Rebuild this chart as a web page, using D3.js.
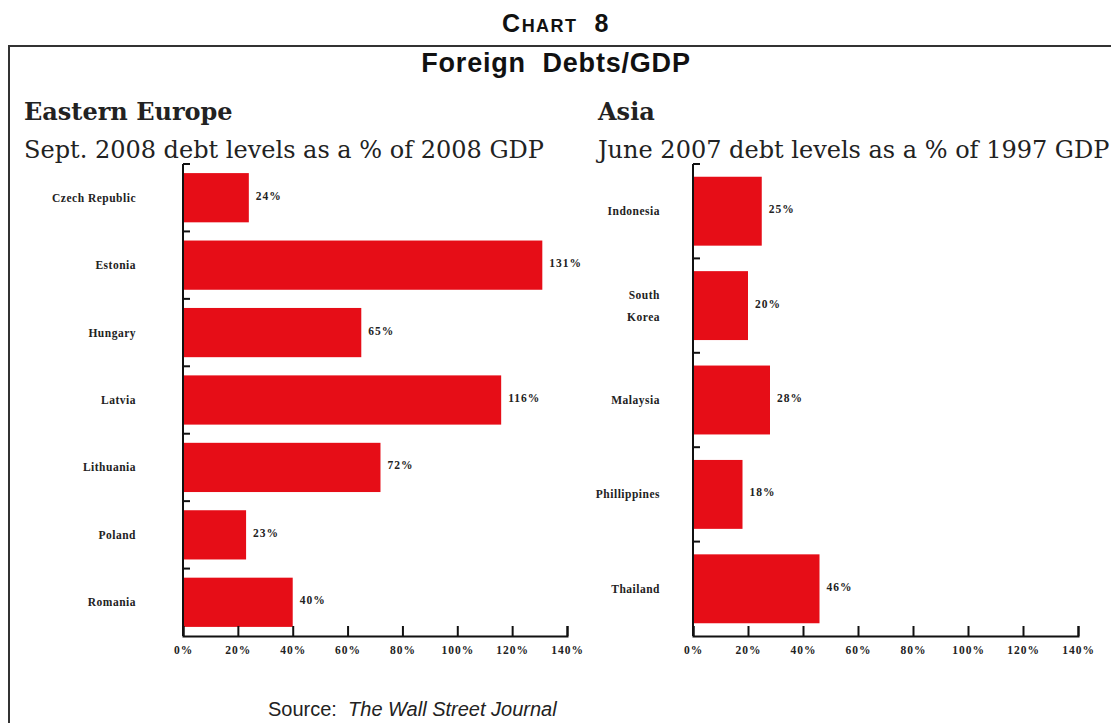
<!DOCTYPE html>
<html>
<head>
<meta charset="utf-8">
<script src="https://cdn.jsdelivr.net/npm/d3@7"></script>
<style>
  body { margin: 0; background: #fff; }
  svg { display: block; }
  .serif { font-family: "Liberation Serif", "DejaVu Serif", serif; }
  .wide { font-family: "DejaVu Serif", "Liberation Serif", serif; }
  .sans { font-family: "Liberation Sans", Arial, sans-serif; }
</style>
</head>
<body>
<div id="canvas"></div>
<script>
// data
var euCountries = ["Czech Republic", "Estonia", "Hungary", "Latvia", "Lithuania", "Poland", "Romania"];
var euValues = [24, 131, 65, 116, 72, 23, 40];

var asiaCountries = ["Indonesia", "South\nKorea", "Malaysia", "Phillippines", "Thailand"];
var asiaValues = [25, 20, 28, 18, 46];

var xTicks = [0, 20, 40, 60, 80, 100, 120, 140];

var W = 1111, H = 723;
var red = "#e60d17";

var svg = d3.select("#canvas").append("svg")
    .attr("width", W)
    .attr("height", H);

// frame
svg.append("path")
    .attr("d", "M9,723 L9,46 L1112,46")
    .attr("fill", "none")
    .attr("stroke", "#333")
    .attr("stroke-width", 2);

// "CHART 8" in small caps
var chartLbl = svg.append("text")
    .attr("class", "sans")
    .attr("x", 556).attr("y", 32)
    .attr("text-anchor", "middle")
    .attr("font-weight", "bold")
    .attr("letter-spacing", 1.5)
    .attr("fill", "#111");
chartLbl.append("tspan").attr("font-size", 25).text("C");
chartLbl.append("tspan").attr("font-size", 18).text("HART");
chartLbl.append("tspan").attr("font-size", 25).text("\u00a0 8");

svg.append("text")
    .attr("class", "sans")
    .attr("x", 556).attr("y", 72)
    .attr("text-anchor", "middle")
    .attr("font-weight", "bold")
    .attr("font-size", 27)
    .attr("letter-spacing", 0.8)
    .attr("fill", "#111")
    .text("Foreign\u00a0 Debts/GDP");

function panel(opt) {
    var g = svg.append("g");

    g.append("text")
        .attr("class", "wide")
        .attr("x", opt.titleX).attr("y", 120)
        .attr("font-size", 24)
        .attr("font-weight", "bold")
        .attr("fill", "#222")
        .text(opt.title);

    g.append("text")
        .attr("class", "wide")
        .attr("x", opt.titleX).attr("y", 158)
        .attr("font-size", 24)
        .attr("fill", "#222")
        .text(opt.subtitle);

    var x = d3.scaleLinear()
        .domain([0, 140])
        .range(opt.xRange);

    var y = d3.scaleBand()
        .domain(opt.cats)
        .range([164, 636])
        .paddingInner(0.27)
        .paddingOuter(0.135);

    var rows = opt.cats.map(function(c, i){ return {cat: c, val: opt.vals[i]}; });

    // bars
    g.selectAll("rect.bar")
        .data(rows)
        .enter().append("rect")
        .attr("class", "bar")
        .attr("x", x(0))
        .attr("y", function(d){ return y(d.cat); })
        .attr("width", function(d){ return x(d.val) - x(0); })
        .attr("height", y.bandwidth())
        .attr("fill", red);

    // value labels
    g.selectAll("text.val")
        .data(rows)
        .enter().append("text")
        .attr("class", "serif val")
        .attr("x", function(d){ return x(d.val) + 7; })
        .attr("y", function(d){ return y(d.cat) + y.bandwidth() / 2 - 2; })
        .attr("dy", "0.35em")
        .attr("font-size", 11.5)
        .attr("font-weight", "bold")
        .attr("letter-spacing", 1)
        .attr("fill", "#222")
        .text(function(d){ return d.val + "%"; });

    // category labels
    var lbl = g.selectAll("text.cat")
        .data(rows)
        .enter().append("text")
        .attr("class", "serif cat")
        .attr("text-anchor", "end")
        .attr("font-size", 11.5)
        .attr("font-weight", "bold")
        .attr("letter-spacing", 0.5)
        .attr("fill", "#222")
        .attr("y", function(d){ return y(d.cat) + y.bandwidth() / 2; });
    lbl.each(function(d){
        var lines = d.cat.split("\n");
        var t = d3.select(this);
        lines.forEach(function(l, i){
            t.append("tspan")
                .attr("x", opt.labelX)
                .attr("dy", i == 0 ? (0.35 - (lines.length - 1) * 0.95) + "em" : "1.9em")
                .text(l);
        });
    });

    // y axis: vertical line with ticks at band boundaries
    var y0 = y.range()[0], y1 = y.range()[1];
    g.append("line")
        .attr("x1", x(0)).attr("x2", x(0))
        .attr("y1", y0).attr("y2", y1)
        .attr("stroke", "#111").attr("stroke-width", 2);
    g.selectAll("line.ytick")
        .data(opt.cats)
        .enter().append("line")
        .attr("class", "ytick")
        .attr("x1", x(0)).attr("x2", x(0) + 7)
        .attr("y1", function(d){ return y(d) - y.step() * y.paddingInner() / 2; })
        .attr("y2", function(d){ return y(d) - y.step() * y.paddingInner() / 2; })
        .attr("stroke", "#111").attr("stroke-width", 2);

    // x axis, ticks pointing up
    var axisX = d3.axisBottom(x)
        .tickValues(xTicks)
        .tickSize(-10)
        .tickPadding(10)
        .tickFormat(function(d){ return d + "%"; });

    var ax = g.append("g")
        .attr("transform", "translate(0," + y1 + ")")
        .call(axisX);
    ax.select(".domain").attr("stroke", "#111").attr("stroke-width", 2);
    ax.selectAll(".tick line").attr("stroke", "#111").attr("stroke-width", 2);
    ax.selectAll(".tick text")
        .attr("class", "serif")
        .attr("font-size", 11.5)
        .attr("font-weight", "bold")
        .attr("letter-spacing", 1)
        .attr("fill", "#222");
}

panel({
    title: "Eastern Europe",
    subtitle: "Sept. 2008 debt levels as a % of 2008 GDP",
    titleX: 24,
    cats: euCountries,
    vals: euValues,
    xRange: [183, 567],
    labelX: 136
});

panel({
    title: "Asia",
    subtitle: "June 2007 debt levels as a % of 1997 GDP",
    titleX: 598,
    cats: asiaCountries,
    vals: asiaValues,
    xRange: [693, 1078],
    labelX: 660
});

// source line
var src = svg.append("text")
    .attr("class", "sans")
    .attr("x", 268).attr("y", 716)
    .attr("font-size", 20)
    .attr("fill", "#222");
src.append("tspan").text("Source:\u00a0 ");
src.append("tspan").attr("font-style", "italic").text("The Wall Street Journal");
</script>
</body>
</html>
